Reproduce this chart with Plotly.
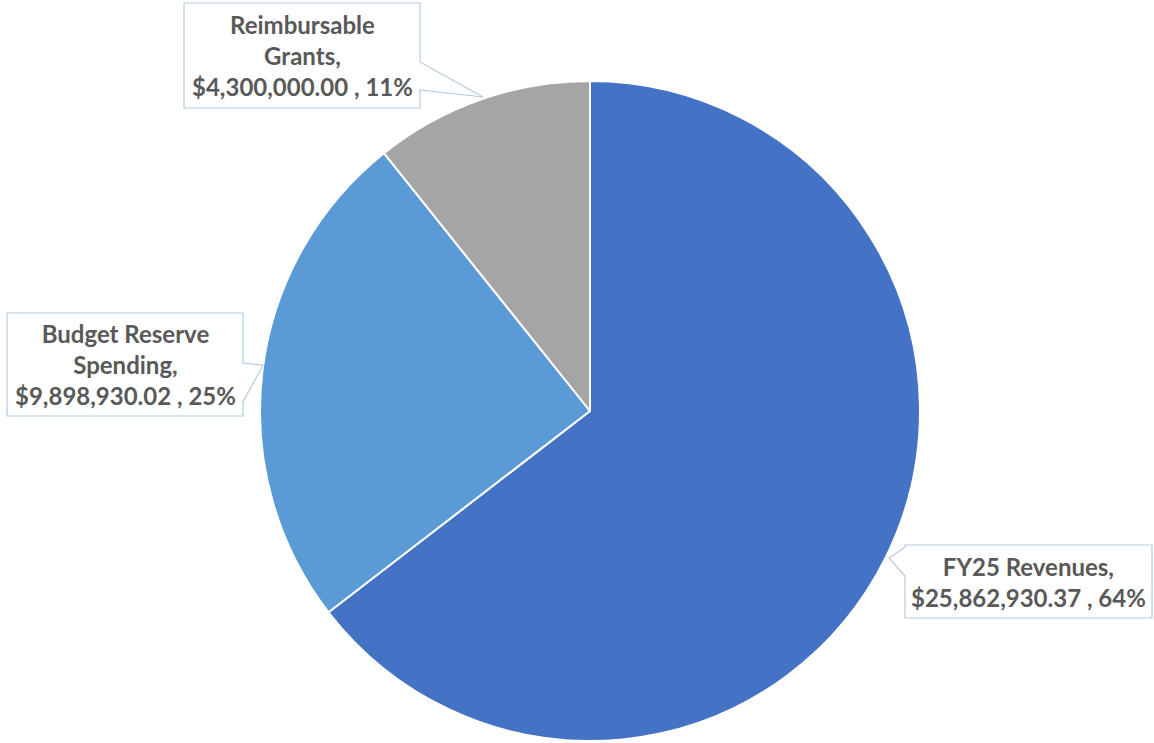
import plotly.graph_objects as go

labels = ["FY25 Revenues", "Budget Reserve Spending", "Reimbursable Grants"]
values = [25862930.37, 9898930.02, 4300000.00]
percents = ["64%", "25%", "11%"]
label_lines = [["FY25 Revenues,"], ["Budget Reserve", "Spending,"], ["Reimbursable", "Grants,"]]
colors = ["#4472C4", "#5B9BD5", "#A5A5A5"]

W, H = 1154, 743

fig = go.Figure(go.Pie(
    labels=labels, values=values, sort=False, direction="clockwise", rotation=0,
    marker=dict(colors=colors, line=dict(color="white", width=2)),
    textinfo="none", hoverinfo="label+value+percent", showlegend=False,
    domain=dict(x=[260 / W, 920 / W], y=[1 - 741 / H, 1 - 81 / H]),
))

# callout geometry in pixels: box (x0, y0, x1, y1), pointer base points, tip
callouts = [
    dict(box=(905, 545, 1152, 618), side="left", base=(547, 576), tip=(889, 558)),
    dict(box=(7, 313, 243, 416), side="right", base=(363, 402), tip=(263, 365)),
    dict(box=(184, 3, 420, 108), side="right", base=(62, 90), tip=(483, 97)),
]

def px(x, y):
    return x / W, 1 - y / H

shapes = []
annotations = []
for i, c in enumerate(callouts):
    x0, y0, x1, y1 = c["box"]
    b0, b1 = c["base"]
    tx, ty = c["tip"]
    if c["side"] == "right":
        pts = [(x0, y0), (x1, y0), (x1, b0), (tx, ty), (x1, b1), (x1, y1), (x0, y1)]
    else:
        pts = [(x0, y0), (x1, y0), (x1, y1), (x0, y1), (x0, b1), (tx, ty), (x0, b0)]
    path = "M " + " L ".join(f"{px(x, y)[0]:.5f},{px(x, y)[1]:.5f}" for x, y in pts) + " Z"
    shapes.append(dict(type="path", xref="paper", yref="paper", path=path,
                       line=dict(color="#B4CBE4", width=1.2), fillcolor="white"))
    text = "<br>".join(label_lines[i] + [f"${values[i]:,.2f} , {percents[i]}"])
    cx, cy = px((x0 + x1) / 2, (y0 + y1) / 2)
    annotations.append(dict(x=cx, y=cy, xref="paper", yref="paper", text=text,
                            showarrow=False, xanchor="center", yanchor="middle",
                            align="center",
                            font=dict(family="Lato", size=24, color="#595959", weight="bold")))

fig.update_layout(
    width=W, height=H, margin=dict(l=0, r=0, t=0, b=0),
    paper_bgcolor="white", plot_bgcolor="white",
    shapes=shapes, annotations=annotations,
)

fig.write_html("out.html")
